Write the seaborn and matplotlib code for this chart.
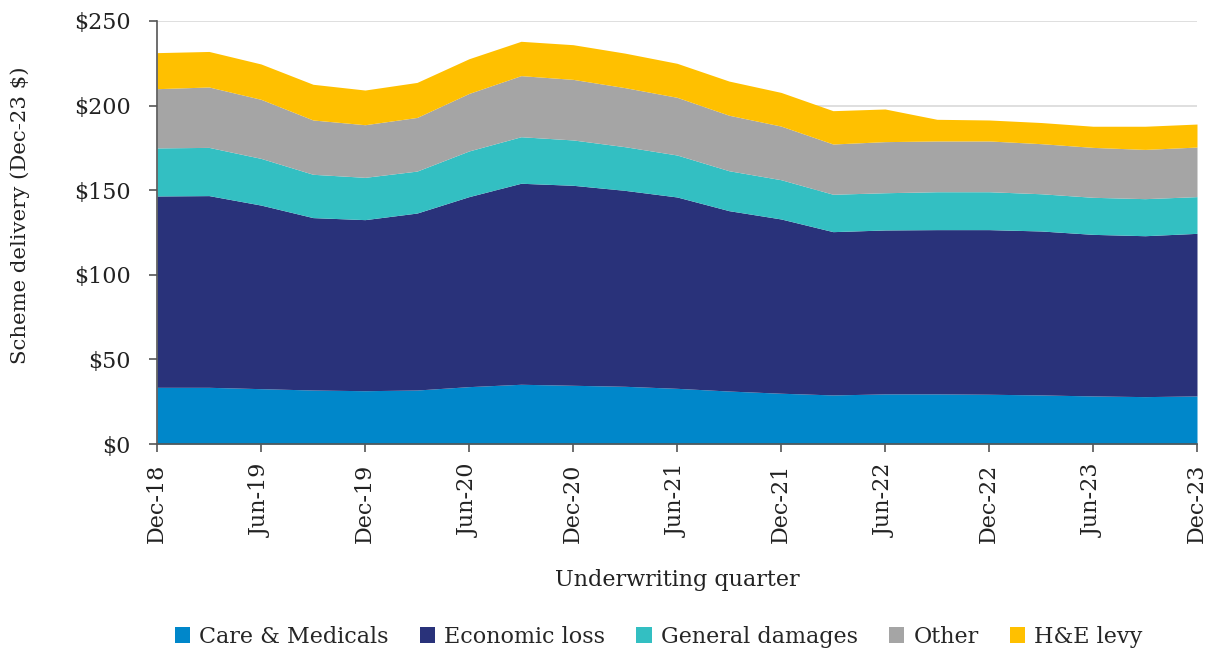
import matplotlib
matplotlib.use("Agg")
import matplotlib.pyplot as plt
import seaborn as sns
import numpy as np
from matplotlib.patches import Patch

quarters = ["Dec-18", "Mar-19", "Jun-19", "Sep-19", "Dec-19", "Mar-20", "Jun-20", "Sep-20",
            "Dec-20", "Mar-21", "Jun-21", "Sep-21", "Dec-21", "Mar-22", "Jun-22", "Sep-22",
            "Dec-22", "Mar-23", "Jun-23", "Sep-23", "Dec-23"]
care = [33.5, 33.5, 32.7, 31.9, 31.5, 31.9, 33.9, 35.3, 34.7, 34.1, 32.9, 31.3, 30.0, 29.0, 29.6,
        29.6, 29.4, 29.0, 28.4, 28.0, 28.4]
econ = [113.1, 113.3, 108.5, 101.9, 101.1, 104.6, 112.3, 118.8, 118.2, 115.8, 113.1, 106.6, 103.0,
        96.5, 96.9, 97.1, 97.3, 96.9, 95.5, 95.1, 96.1]
gd = [28.4, 28.5, 27.6, 25.6, 25.0, 24.8, 27.0, 27.5, 26.8, 25.8, 24.8, 23.6, 23.2, 22.1, 22.0,
      22.4, 22.4, 22.0, 21.9, 21.9, 21.7]
other = [35.0, 35.7, 34.9, 32.1, 31.1, 31.7, 34.0, 36.1, 35.8, 34.9, 34.1, 32.8, 31.7, 29.7, 30.2,
         30.0, 30.0, 29.6, 29.5, 29.1, 29.3]
levy = [21.3, 21.0, 20.9, 21.1, 20.5, 20.7, 20.5, 20.3, 20.5, 20.4, 20.1, 20.2, 19.9, 19.7, 19.3,
        12.8, 12.4, 12.5, 12.5, 13.7, 13.6]
series_names = ["Care & Medicals", "Economic loss", "General damages", "Other", "H&E levy"]
colors = ["#0087CA", "#29327A", "#33BFC2", "#A5A5A5", "#FFC000"]
yticks = [0, 50, 100, 150, 200, 250]

sns.set_theme(style="white")
plt.rcParams['font.family'] = ['DejaVu Serif']

fig = plt.figure(figsize=(12.13, 6.53), dpi=100)
ax = fig.add_axes([157/1213, 1-444/653, (1197-157)/1213, (444-21)/653])

x = np.arange(len(quarters))
for yv in yticks[1:]:
    ax.axhline(yv, color="#D9D9D9", lw=1.2, zorder=0)
ax.stackplot(x, care, econ, gd, other, levy, colors=colors, zorder=2, lw=0)

ax.set_xlim(0, len(quarters) - 1)
ax.set_ylim(0, 250)
ax.set_yticks(yticks)
ax.set_yticklabels([f"${v}" for v in yticks], fontsize=16, color="#222222")
ax.set_xticks(x[::2])
ax.set_xticklabels(quarters[::2], rotation=90, fontsize=16, color="#222222")
ax.tick_params(axis="both", direction="out", length=6, width=1.2, color="#555555",
               bottom=True, left=True)
ax.tick_params(axis="x", pad=8)
ax.tick_params(axis="y", pad=13)
for s in ["top", "right"]:
    ax.spines[s].set_visible(False)
for s in ["left", "bottom"]:
    ax.spines[s].set_color("#555555")
    ax.spines[s].set_linewidth(1.2)

ax.set_ylabel("Scheme delivery (Dec-23 $)", fontsize=15.3, color="#222222")
ax.yaxis.set_label_coords(-0.122, 0.541)
ax.set_xlabel("Underwriting quarter", fontsize=16, color="#222222", labelpad=19)

handles = [Patch(facecolor=c, edgecolor="none") for c in colors]
fig.legend(handles, series_names, loc="center", bbox_to_anchor=(0.543, 1-637/653), ncol=5,
           frameon=False, fontsize=16, handlelength=0.7, handleheight=0.7,
           handletextpad=0.4, columnspacing=1.4)

fig.savefig("out.png", dpi=100)
